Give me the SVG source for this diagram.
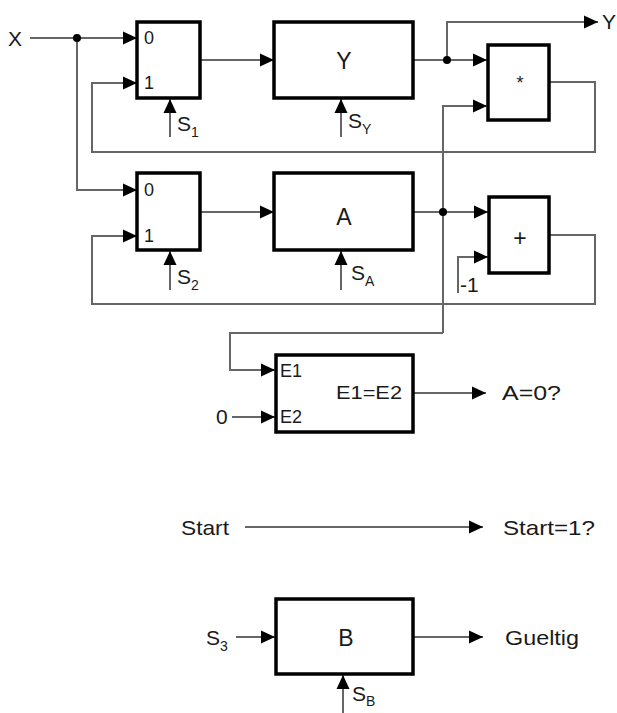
<svg xmlns="http://www.w3.org/2000/svg" width="617" height="713" viewBox="0 0 617 713">
<defs>
<marker id="ah" markerUnits="userSpaceOnUse" markerWidth="15" markerHeight="14" refX="14" refY="7" orient="auto"><path d="M0,0.5 L14,7 L0,13.5 z" fill="#000"/></marker>
<style>
.box{fill:#fff;stroke:#000;stroke-width:3.5}
.w{fill:none;stroke:#666;stroke-width:2}
.t{font-family:"Liberation Sans",Arial,sans-serif;fill:#1a1a1a}
.big{font-size:21px}
.bx{font-size:23px}
.sm{font-size:18px}
.sub{font-size:14px}
.dot{fill:#000}
</style>
</defs>
<rect width="617" height="713" fill="#fff"/>
<g id="connectors">
<path class="w" d="M30,38 H137" marker-end="url(#ah)"/>
<path class="w" d="M77,38 V190 H137" marker-end="url(#ah)"/>
<path class="w" d="M200,60 H274" marker-end="url(#ah)"/>
<path class="w" d="M413,60 H487" marker-end="url(#ah)"/>
<path class="w" d="M447,60 V22 H598" marker-end="url(#ah)"/>
<path class="w" d="M549,82 H595 V152 H92 V83 H137" marker-end="url(#ah)"/>
<path class="w" d="M170,137 V99" marker-end="url(#ah)"/>
<path class="w" d="M341,137 V99" marker-end="url(#ah)"/>
<path class="w" d="M200,212 H274" marker-end="url(#ah)"/>
<path class="w" d="M413,212 H488" marker-end="url(#ah)"/>
<path class="w" d="M443,333 V106 H487" marker-end="url(#ah)"/>
<path class="w" d="M443,333 H230 V370 H275" marker-end="url(#ah)"/>
<path class="w" d="M458,293 V257 H488" marker-end="url(#ah)"/>
<path class="w" d="M549,235 H595 V304 H92 V236 H137" marker-end="url(#ah)"/>
<path class="w" d="M170,290 V251" marker-end="url(#ah)"/>
<path class="w" d="M341,290 V251" marker-end="url(#ah)"/>
<path class="w" d="M232,417 H275" marker-end="url(#ah)"/>
<path class="w" d="M413,393 H486" marker-end="url(#ah)"/>
<path class="w" d="M245,527 H483" marker-end="url(#ah)"/>
<path class="w" d="M236,637 H275" marker-end="url(#ah)"/>
<path class="w" d="M413,637 H483" marker-end="url(#ah)"/>
<path class="w" d="M343,713 V675" marker-end="url(#ah)"/>
<circle class="dot" cx="77" cy="38" r="4"/>
<circle class="dot" cx="447" cy="60" r="4"/>
<circle class="dot" cx="443" cy="212" r="4"/>
</g>
<g id="inputX"><text class="t big" x="8" y="46">X</text></g>
<g id="outputY"><text class="t big" x="602" y="29">Y</text></g>
<g id="mux1">
<rect class="box" x="137" y="22" width="63" height="76"/>
<text class="t sm" x="144" y="44">0</text>
<text class="t sm" x="144" y="89">1</text>
<text class="t big" x="177" y="131">S<tspan class="sub" dy="6">1</tspan></text>
</g>
<g id="regY">
<rect class="box" x="274" y="22" width="139" height="76"/>
<text class="t bx" x="344" y="69" text-anchor="middle">Y</text>
<text class="t big" x="348" y="128">S<tspan class="sub" dy="6">Y</tspan></text>
</g>
<g id="mult">
<rect class="box" x="488" y="45" width="61" height="75"/>
<text class="t sm" x="520" y="89" text-anchor="middle">*</text>
</g>
<g id="mux2">
<rect class="box" x="137" y="173" width="63" height="77"/>
<text class="t sm" x="144" y="196">0</text>
<text class="t sm" x="144" y="242">1</text>
<text class="t big" x="177" y="284">S<tspan class="sub" dy="6">2</tspan></text>
</g>
<g id="regA">
<rect class="box" x="274" y="173" width="139" height="77"/>
<text class="t bx" x="344" y="225" text-anchor="middle">A</text>
<text class="t big" x="351" y="280">S<tspan class="sub" dy="6">A</tspan></text>
</g>
<g id="adder">
<rect class="box" x="489" y="197" width="60" height="76"/>
<text class="t bx" x="520" y="246" text-anchor="middle">+</text>
<text class="t big" x="460" y="292">-1</text>
</g>
<g id="comparator">
<rect class="box" x="276" y="355" width="137" height="77"/>
<text class="t sm" x="280" y="377">E1</text>
<text class="t sm" x="280" y="423">E2</text>
<text class="t sm" x="336" y="399" textLength="66" lengthAdjust="spacingAndGlyphs">E1=E2</text>
<text class="t big" x="216" y="424">0</text>
<text class="t big" x="502" y="400" textLength="59" lengthAdjust="spacingAndGlyphs">A=0?</text>
</g>
<g id="start">
<text class="t big" x="181" y="535" textLength="48" lengthAdjust="spacingAndGlyphs">Start</text>
<text class="t big" x="503" y="535" textLength="92" lengthAdjust="spacingAndGlyphs">Start=1?</text>
</g>
<g id="regB">
<rect class="box" x="276" y="599" width="137" height="75"/>
<text class="t bx" x="346" y="646" text-anchor="middle">B</text>
<text class="t big" x="206" y="645">S<tspan class="sub" dy="6">3</tspan></text>
<text class="t big" x="505" y="645" textLength="74" lengthAdjust="spacingAndGlyphs">Gueltig</text>
<text class="t big" x="352" y="701">S<tspan class="sub" dy="5">B</tspan></text>
</g>
</svg>
